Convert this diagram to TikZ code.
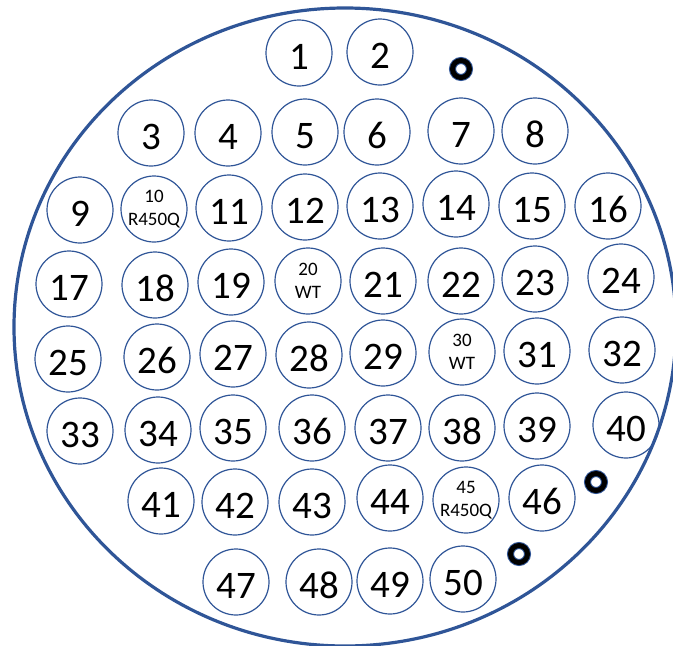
\documentclass[tikz,border=0pt]{standalone}
\usepackage{fontspec}
\setmainfont{Carlito}
\usetikzlibrary{positioning}
\definecolor{rimblue}{RGB}{47,85,151}

\begin{document}
\begin{tikzpicture}[
  x=1pt, y=-1pt,
  hole/.style={circle, draw=rimblue, line width=1.2pt, minimum size=66pt,
               inner sep=0pt, text height=32pt, text depth=0pt,
               font=\fontsize{39}{39}\selectfont},
  tagged/.style={circle, draw=rimblue, line width=1.2pt, minimum size=66pt,
                 inner sep=0pt, align=center, font=\fontsize{19}{23}\selectfont},
  pinring/.style={circle, minimum size=17pt, inner sep=0pt},
]
\useasboundingbox (0,0) rectangle (673,646);

% Outer rim
\draw[rimblue, line width=3.2pt] (345,327) ellipse [x radius=331, y radius=319];

% Plain holes, row by row
\foreach \n/\x/\y in {
  1/299/53, 2/380/52,
  3/151/133, 4/228/133, 5/305/132, 6/377/132, 7/461/131, 8/535/131,
  9/80/210, 11/229/208, 12/305/207, 13/380/206, 14/456/204, 15/532/206, 16/608/206,
  17/69/284, 18/155/285, 19/231/282, 21/383/281, 22/461/281, 23/535/279, 24/621/277,
  25/68/359, 26/157/357, 27/233/354, 28/309/355, 29/383/353, 31/537/351, 32/622/350,
  33/80/431, 34/158/430, 35/233/428, 36/312/428, 37/388/428, 38/462/428, 39/537/426, 40/626/425,
  41/161/501, 42/235/502, 43/312/502, 44/390/498, 46/542/498,
  47/236/582, 48/319/582, 49/390/581, 50/463/579}
  \node[hole] (h\n) at (\x,\y) {\n};

% Holes with a tag
\node[tagged] (h10) at (154,209) {10\\R450Q};
\node[tagged] (h20) at (308,281) {20\\WT};
\node[tagged] (h30) at (462,352) {30\\WT};
\node[tagged] (h45) at (466,500) {45\\R450Q};

% Small marker rings
\foreach \p/\x/\y in {a/461/69, b/596/482, c/519/554} {
  \node[pinring, draw=rimblue, line width=7pt] (pin\p) at (\x,\y) {};
  \node[pinring, draw=black, line width=5pt] at (pin\p) {};
}
\end{tikzpicture}
\end{document}
